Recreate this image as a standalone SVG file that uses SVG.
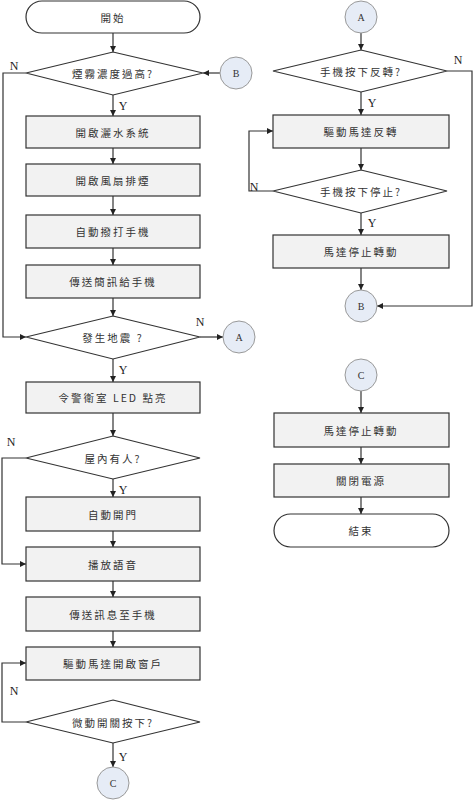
<svg xmlns="http://www.w3.org/2000/svg" width="474" height="800" viewBox="0 0 474 800">
<defs>
<marker id="ah" viewBox="0 0 8 8" refX="8" refY="4" markerWidth="6" markerHeight="6" markerUnits="userSpaceOnUse" orient="auto"><path d="M0,0 L8,4 L0,8 z" fill="#222"/></marker>
<style>
.box{fill:#f2f2f2;stroke:#333;stroke-width:1.2}
.term{fill:#fff;stroke:#333;stroke-width:1.2}
.dia{fill:#fff;stroke:#333;stroke-width:1.2}
.cir{fill:#e6ecf6;stroke:#999;stroke-width:1}
.t{font-family:"Noto Sans CJK TC","Noto Sans CJK SC",sans-serif;font-size:10.5px;letter-spacing:2px;fill:#333;text-anchor:middle;dominant-baseline:central}
.c{font-family:"Liberation Serif",serif;font-size:10px;fill:#333;text-anchor:middle;dominant-baseline:central}
.l{font-family:"Liberation Serif",serif;font-size:12px;fill:#222;text-anchor:middle;dominant-baseline:central}
.ln{fill:none;stroke:#333;stroke-width:1.2}
</style>
</defs>
<g id="connectors">
<path class="ln" d="M113,33 V52" marker-end="url(#ah)"/>
<path class="ln" d="M220,73 H203" marker-end="url(#ah)"/>
<path class="ln" d="M113,95 V116" marker-end="url(#ah)"/>
<path class="ln" d="M113,148 V164" marker-end="url(#ah)"/>
<path class="ln" d="M113,196 V215" marker-end="url(#ah)"/>
<path class="ln" d="M113,248 V265" marker-end="url(#ah)"/>
<path class="ln" d="M113,298 V316" marker-end="url(#ah)"/>
<path class="ln" d="M26,73 H3 V337 H26" marker-end="url(#ah)"/>
<path class="ln" d="M200,337 H223" marker-end="url(#ah)"/>
<path class="ln" d="M113,359 V382" marker-end="url(#ah)"/>
<path class="ln" d="M113,413 V436" marker-end="url(#ah)"/>
<path class="ln" d="M26,458 H2 V564 H26" marker-end="url(#ah)"/>
<path class="ln" d="M113,479 V497" marker-end="url(#ah)"/>
<path class="ln" d="M113,531 V547" marker-end="url(#ah)"/>
<path class="ln" d="M113,581 V597" marker-end="url(#ah)"/>
<path class="ln" d="M113,631 V647" marker-end="url(#ah)"/>
<path class="ln" d="M26,722 H2 V663 H26" marker-end="url(#ah)"/>
<path class="ln" d="M113,743 V767" marker-end="url(#ah)"/>
<path class="ln" d="M361,33 V50" marker-end="url(#ah)"/>
<path class="ln" d="M361,92 V115" marker-end="url(#ah)"/>
<path class="ln" d="M447,71 H472 V306 H377" marker-end="url(#ah)"/>
<path class="ln" d="M361,148 V170" marker-end="url(#ah)"/>
<path class="ln" d="M273,191 H249 V131 H273" marker-end="url(#ah)"/>
<path class="ln" d="M361,213 V235" marker-end="url(#ah)"/>
<path class="ln" d="M361,268 V290" marker-end="url(#ah)"/>
<path class="ln" d="M361,391 V413" marker-end="url(#ah)"/>
<path class="ln" d="M361,447 V464" marker-end="url(#ah)"/>
<path class="ln" d="M361,497 V514" marker-end="url(#ah)"/>
<text class="l" x="14" y="66">N</text>
<text class="l" x="123" y="106">Y</text>
<text class="l" x="200" y="322">N</text>
<text class="l" x="123" y="370">Y</text>
<text class="l" x="11" y="442">N</text>
<text class="l" x="123" y="490">Y</text>
<text class="l" x="14" y="691">N</text>
<text class="l" x="123" y="757">Y</text>
<text class="l" x="458" y="60">N</text>
<text class="l" x="372" y="103">Y</text>
<text class="l" x="254" y="187">N</text>
<text class="l" x="372" y="223">Y</text>
</g>
<g id="start"><rect class="term" x="26" y="1" width="174" height="32" rx="16"/><text class="t" x="113" y="17">開始</text></g>
<g id="d1"><polygon class="dia" points="113,52 203,73 113,95 26,73"/><text class="t" x="113" y="73">煙霧濃度過高?</text></g>
<g id="cB1"><circle class="cir" cx="236" cy="73" r="16"/><text class="c" x="236" y="73">B</text></g>
<g id="b1"><rect class="box" x="26" y="116" width="174" height="32"/><text class="t" x="113" y="132">開啟灑水系統</text></g>
<g id="b2"><rect class="box" x="26" y="164" width="174" height="32"/><text class="t" x="113" y="180">開啟風扇排煙</text></g>
<g id="b3"><rect class="box" x="26" y="215" width="174" height="33"/><text class="t" x="113" y="231.5">自動撥打手機</text></g>
<g id="b4"><rect class="box" x="26" y="265" width="174" height="33"/><text class="t" x="113" y="281.5">傳送簡訊給手機</text></g>
<g id="d2"><polygon class="dia" points="113,316 200,337 113,359 26,337"/><text class="t" x="113" y="337">發生地震 ?</text></g>
<g id="cA1"><circle class="cir" cx="239" cy="337" r="16"/><text class="c" x="239" y="337">A</text></g>
<g id="b5"><rect class="box" x="26" y="382" width="174" height="31"/><text class="t" x="113" y="397.5">令警衛室 LED 點亮</text></g>
<g id="d3"><polygon class="dia" points="113,436 200,458 113,479 26,458"/><text class="t" x="113" y="458">屋內有人?</text></g>
<g id="b6"><rect class="box" x="26" y="497" width="174" height="34"/><text class="t" x="113" y="514">自動開門</text></g>
<g id="b7"><rect class="box" x="26" y="547" width="174" height="34"/><text class="t" x="113" y="564">播放語音</text></g>
<g id="b8"><rect class="box" x="26" y="597" width="174" height="34"/><text class="t" x="113" y="614">傳送訊息至手機</text></g>
<g id="b9"><rect class="box" x="26" y="647" width="174" height="33"/><text class="t" x="113" y="663.5">驅動馬達開啟窗戶</text></g>
<g id="d4"><polygon class="dia" points="113,700 200,722 113,743 26,722"/><text class="t" x="113" y="722">微動開關按下?</text></g>
<g id="cC1"><circle class="cir" cx="113" cy="783" r="16"/><text class="c" x="113" y="783">C</text></g>
<g id="cA2"><circle class="cir" cx="361" cy="17" r="16"/><text class="c" x="361" y="17">A</text></g>
<g id="d5"><polygon class="dia" points="361,50 447,71 361,92 273,71"/><text class="t" x="361" y="71">手機按下反轉?</text></g>
<g id="r1"><rect class="box" x="273" y="115" width="176" height="33"/><text class="t" x="361" y="131.5">驅動馬達反轉</text></g>
<g id="d6"><polygon class="dia" points="361,170 447,191 361,213 273,191"/><text class="t" x="361" y="191">手機按下停止?</text></g>
<g id="r2"><rect class="box" x="273" y="235" width="176" height="33"/><text class="t" x="361" y="251.5">馬達停止轉動</text></g>
<g id="cB2"><circle class="cir" cx="361" cy="306" r="16"/><text class="c" x="361" y="306">B</text></g>
<g id="cC2"><circle class="cir" cx="361" cy="375" r="16"/><text class="c" x="361" y="375">C</text></g>
<g id="r3"><rect class="box" x="274" y="413" width="175" height="34"/><text class="t" x="361" y="430">馬達停止轉動</text></g>
<g id="r4"><rect class="box" x="274" y="464" width="175" height="33"/><text class="t" x="361" y="480.5">關閉電源</text></g>
<g id="end"><rect class="term" x="274" y="514" width="175" height="33" rx="16.5"/><text class="t" x="361" y="530.5">結束</text></g>
</svg>
